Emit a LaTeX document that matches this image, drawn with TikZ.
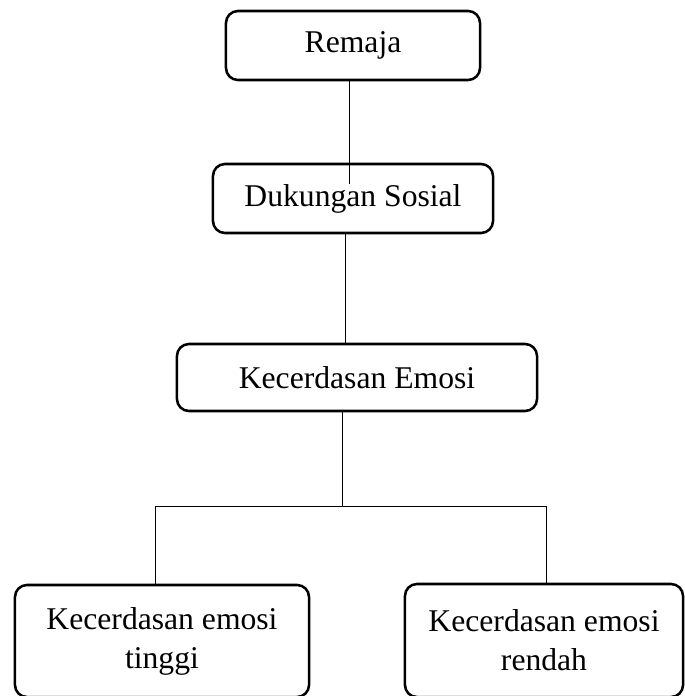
\documentclass[tikz,border=0pt]{standalone}
\usepackage{fontspec}
\setmainfont{Liberation Serif}

\tikzset{
	box/.style={draw, line width=1.8pt, rounded corners=0.3cm, align=center, inner sep=0pt,
		font=\fontsize{22.5}{27.7}\selectfont},
	link/.style={line width=0.7pt}
}

\begin{document}
\begin{tikzpicture}[x=0.025cm, y=-0.025cm]
	\useasboundingbox (0,0) rectangle (684,696);
	\node[box, minimum width=6.35cm, minimum height=1.725cm] (remaja) at (353, 45.5) {Remaja};
	\node[box, minimum width=7cm, minimum height=1.725cm] (dukungan) at (353, 198.5) {Dukungan Sosial};
	\node[box, minimum width=9cm, minimum height=1.675cm] (kecerdasan) at (357, 377.5) {Kecerdasan Emosi};
	\node[box, minimum width=7.35cm, minimum height=2.8cm] (tinggi) at (162, 641) {Kecerdasan emosi\\tinggi};
	\node[box, minimum width=6.95cm, minimum height=2.825cm] (rendah) at (544, 640.5) {Kecerdasan emosi\\rendah};
	\coordinate (split) at (342, 506);
	\coordinate (kiri) at (155, 506);
	\coordinate (kanan) at (546, 506);
		\draw[link, shorten >= -0.52cm] ([xshift=-0.1cm]remaja.south) -- ([xshift=-0.1cm]remaja.south |- dukungan.north);
		\draw[link] ([xshift=-0.2cm]dukungan.south) -- ([xshift=-0.2cm]dukungan.south |- kecerdasan.north);
		\draw[link] (kecerdasan.south -| split) -- (split);
		\draw[link] (kiri) -- (kanan);
		\draw[link] (kiri) -- (kiri |- tinggi.north);
		\draw[link] (kanan) -- (kanan |- rendah.north);
\end{tikzpicture}
\end{document}
